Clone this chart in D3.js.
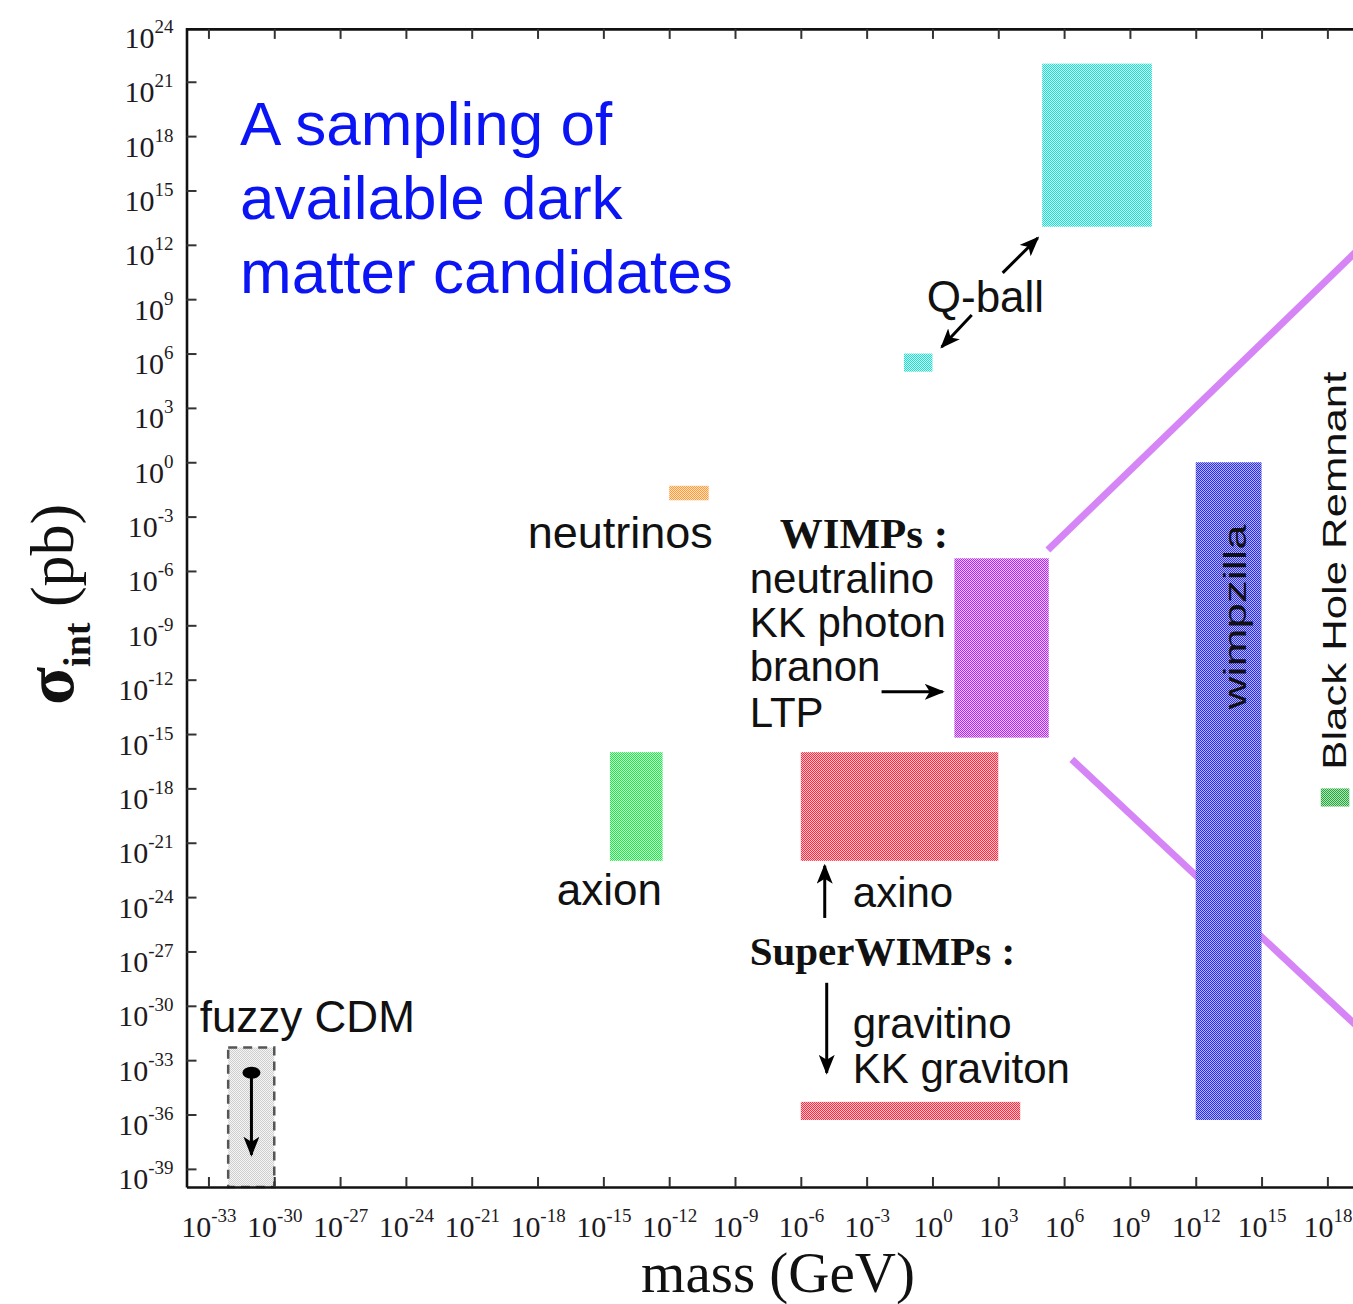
<!DOCTYPE html>
<html>
<head>
<meta charset="utf-8">
<script src="https://cdn.jsdelivr.net/npm/d3@7"></script>
<style>
  html, body { margin: 0; padding: 0; background: #fff; }
  svg { display: block; }
</style>
</head>
<body>
<svg id="chart" width="1353" height="1304"></svg>
<script>
// ---- data: dark matter candidate regions (mass in GeV, interaction cross-section in pb) ----
const candidates = ["Q-ball (heavy)", "Q-ball (light)", "neutrinos", "WIMPs", "axion",
                    "axino", "gravitino / KK graviton", "wimpzilla", "Black Hole Remnant", "fuzzy CDM"];
const massLow   = [1e5,  10 ** -1.3, 1e-12,       1e1,         10 ** -14.7, 1e-6,  1e-6,         1e12,        10 ** 17.7, 10 ** -32.1];
const massHigh  = [1e10, 1e0,        10 ** -10.2, 10 ** 5.3,   10 ** -12.3, 1e3,   1e4,          1e15,        1e19,       1e-30];
const sigmaLow  = [1e13, 1e5,        10 ** -2.1,  10 ** -15.2, 1e-22,       1e-22, 10 ** -36.3,  10 ** -36.3, 1e-19,      1e-40];
const sigmaHigh = [1e22, 1e6,        10 ** -1.3,  10 ** -5.3,  1e-16,       1e-16, 10 ** -35.3,  1e0,         1e-18,      10 ** -32.3];

// axis tick exponents
const xTickExp = d3.range(-33, 22, 3);   // 10^-33 ... 10^21
const yTickExp = d3.range(-39, 25, 3);   // 10^-39 ... 10^24

// fill style per candidate (halftone: dot colour, gap colour)
const fillStyle = {
  "Q-ball (heavy)":          ["#22dccc", "#c8f7f3"],
  "Q-ball (light)":          ["#22dccc", "#c8f7f3"],
  "neutrinos":               ["#ff9a3a", "#ffe0c0"],
  "WIMPs":                   ["#b02cf0", "#e8c0fb"],
  "axion":                   ["#22e64c", "#c4f8cf"],
  "axino":                   ["#ff2b40", "#ffc4ca"],
  "gravitino / KK graviton": ["#ff2b40", "#ffc4ca"],
  "wimpzilla":               ["#2a2af5", "#b6b6fb"],
  "Black Hole Remnant":      ["#22a83a", "#b4e2bb"],
  "fuzzy CDM":               ["#cfcfcf", "#f4f4f4"]
};

const SANS = "'Liberation Sans', Arial, Helvetica, sans-serif";
const SERIF = "'Liberation Serif', 'Times New Roman', Times, serif";

const svg = d3.select("#chart");
const x = d3.scaleLog().domain([1e-34, 1e21]).range([186.5, 1393.2]);
const y = d3.scaleLog().domain([1e-40, 1e24]).range([1187, 27.4]);
const X = e => x(10 ** e);   // position from a base-10 exponent
const Y = e => y(10 ** e);

const defs = svg.append("defs");

// halftone patterns
candidates.forEach((c, i) => {
  const [dot, gap] = fillStyle[c];
  const p = defs.append("pattern")
    .attr("id", "ht" + i)
    .attr("patternUnits", "userSpaceOnUse")
    .attr("width", 2).attr("height", 2);
  p.append("rect").attr("width", 2).attr("height", 2).attr("fill", gap);
  p.append("rect").attr("x", 0).attr("y", 0).attr("width", 1).attr("height", 1).attr("fill", dot);
  p.append("rect").attr("x", 1).attr("y", 1).attr("width", 1).attr("height", 1).attr("fill", dot);
});

// arrow head marker
defs.append("marker")
  .attr("id", "head")
  .attr("markerUnits", "userSpaceOnUse")
  .attr("viewBox", "0 -8 20 16")
  .attr("refX", 18).attr("refY", 0)
  .attr("markerWidth", 20).attr("markerHeight", 16)
  .attr("orient", "auto")
  .append("path")
  .attr("d", "M0,-8 L20,0 L0,8 L5,0 Z")
  .attr("fill", "#000");

// ---- zoom lines fanning out from the WIMP box ----
const zoomLines = [
  [[5.26, -4.84], [21, 13.6]],
  [[6.35, -16.4], [21, -33.0]]
];
svg.append("g").selectAll("line").data(zoomLines).join("line")
  .attr("x1", d => X(d[0][0])).attr("y1", d => Y(d[0][1]))
  .attr("x2", d => X(d[1][0])).attr("y2", d => Y(d[1][1]))
  .attr("stroke", "#d685f6").attr("stroke-width", 7);

// ---- candidate regions ----
const regions = svg.append("g");
candidates.forEach((c, i) => {
  const r = regions.append("rect")
    .attr("x", x(massLow[i]))
    .attr("y", y(sigmaHigh[i]))
    .attr("width", x(massHigh[i]) - x(massLow[i]))
    .attr("height", y(sigmaLow[i]) - y(sigmaHigh[i]))
    .attr("fill", `url(#ht${i})`);
  if (c === "fuzzy CDM") {
    r.attr("stroke", "#555").attr("stroke-width", 2.5).attr("stroke-dasharray", "9,6");
  }
});

// ---- axes ----
const axisStyle = g => {
  g.select(".domain").attr("stroke", "#111").attr("stroke-width", 2.6);
  g.selectAll(".tick line").attr("stroke", "#333").attr("stroke-width", 2);
};
const expLabel = sel => {
  sel.each(function(d) {
    const e = Math.round(Math.log10(d));
    const t = d3.select(this).text(null)
      .attr("font-family", SERIF).attr("font-size", 30).attr("fill", "#1d1a22");
    t.append("tspan").text("10");
    t.append("tspan").attr("font-size", 19).attr("dy", -15).text(String(e));
  });
};

const xVals = xTickExp.map(e => 10 ** e);
const yVals = yTickExp.map(e => 10 ** e);

const gBottom = svg.append("g").attr("transform", `translate(0,${y.range()[0]})`)
  .call(d3.axisBottom(x).tickValues(xVals).tickSizeInner(-10).tickSizeOuter(0).tickPadding(12))
  .call(axisStyle);
gBottom.selectAll(".tick text").attr("y", 50).attr("dy", 0).call(expLabel);

svg.append("g").attr("transform", `translate(0,${y.range()[1] + 1.5})`)
  .call(d3.axisTop(x).tickValues(xVals).tickSizeInner(-10).tickSizeOuter(0).tickFormat(""))
  .call(axisStyle);

const gLeft = svg.append("g").attr("transform", `translate(${x.range()[0]},0)`)
  .call(d3.axisLeft(y).tickValues(yVals).tickSizeInner(-10).tickSizeOuter(0).tickPadding(13))
  .call(axisStyle);
gLeft.selectAll(".tick text").attr("dy", 20).call(expLabel);
gLeft.selectAll(".tick").filter(d => d >= 1e24).select("line").remove();

svg.append("g").attr("transform", `translate(${x.range()[1]},0)`)
  .call(d3.axisRight(y).tickValues(yVals).tickSizeInner(-10).tickSizeOuter(0).tickFormat(""))
  .call(axisStyle);

// axis titles
svg.append("text")
  .attr("x", 778).attr("y", 1292)
  .attr("text-anchor", "middle")
  .attr("font-family", SERIF).attr("font-size", 57).attr("fill", "#111")
  .text("mass (GeV)");

const yTitle = svg.append("text")
  .attr("transform", "translate(73,705) rotate(-90)")
  .attr("font-family", SERIF).attr("fill", "#111");
yTitle.append("tspan").attr("font-size", 70).attr("font-weight", "bold").text("σ");
yTitle.append("tspan").attr("font-size", 38).attr("font-weight", "bold").attr("dy", 17).text("int");
yTitle.append("tspan").attr("font-size", 62).attr("dy", -17).text(" (pb)");

// ---- annotations ----
const ann = svg.append("g").attr("fill", "#111");
const label = (txt, m, s, opts = {}) => ann.append("text")
  .attr("x", X(m)).attr("y", Y(s))
  .attr("font-family", opts.serif ? SERIF : SANS)
  .attr("font-weight", opts.bold ? "bold" : "normal")
  .attr("font-size", opts.size || 42)
  .text(txt);

label("Q-ball", -0.26, 8.3, { size: 44 });
label("neutrinos", -18.45, -4.73, { size: 45 });
label("WIMPs :", -6.96, -4.73, { serif: true, bold: true, size: 43 });
label("neutralino", -8.33, -7.21);
label("KK photon", -8.33, -9.64);
label("branon", -8.33, -12.07);
label("LTP", -8.33, -14.61);
label("axion", -17.12, -24.43, { size: 44 });
label("axino", -3.63, -24.54);
label("SuperWIMPs :", -8.33, -27.74, { serif: true, bold: true, size: 41 });
label("gravitino", -3.63, -31.77);
label("KK graviton", -3.63, -34.25);
label("fuzzy CDM", -33.4, -31.44, { size: 44 });

// rotated labels
ann.append("text")
  .attr("transform", `translate(${X(14.3)},${Y(-8.54)}) rotate(-90)`)
  .attr("text-anchor", "middle")
  .attr("font-family", SANS).attr("font-size", 31)
  .attr("textLength", 185).attr("lengthAdjust", "spacingAndGlyphs")
  .text("wimpzilla");
ann.append("text")
  .attr("transform", `translate(${X(18.85)},${Y(-16.97)}) rotate(-90)`)
  .attr("font-family", SANS).attr("font-size", 33)
  .attr("textLength", 398).attr("lengthAdjust", "spacingAndGlyphs")
  .text("Black Hole Remnant");

// arrows: [from (mass exp, sigma exp), to]
const arrows = [
  [[3.2, 10.45], [4.8, 12.38]],
  [[1.79, 8.13], [0.42, 6.36]],
  [[-2.32, -12.67], [0.47, -12.67]],
  [[-4.91, -25.15], [-4.91, -22.27]],
  [[-4.82, -28.73], [-4.82, -33.7]],
  [[-31.04, -33.7], [-31.04, -38.22]]
];
ann.selectAll("line.arrow").data(arrows).join("line")
  .attr("class", "arrow")
  .attr("x1", d => X(d[0][0])).attr("y1", d => Y(d[0][1]))
  .attr("x2", d => X(d[1][0])).attr("y2", d => Y(d[1][1]))
  .attr("stroke", "#000").attr("stroke-width", 3)
  .attr("marker-end", "url(#head)");

// fuzzy CDM starting point
ann.append("ellipse")
  .attr("cx", X(-31.04)).attr("cy", Y(-33.7))
  .attr("rx", 9).attr("ry", 6).attr("fill", "#000");

// ---- headline ----
const title = svg.append("text")
  .attr("font-family", SANS).attr("font-size", 62).attr("fill", "#0a14f5");
["A sampling of", "available dark", "matter candidates"].forEach((t, i) => {
  title.append("tspan").attr("x", 240).attr("y", 145 + i * 74).text(t);
});
</script>
</body>
</html>
